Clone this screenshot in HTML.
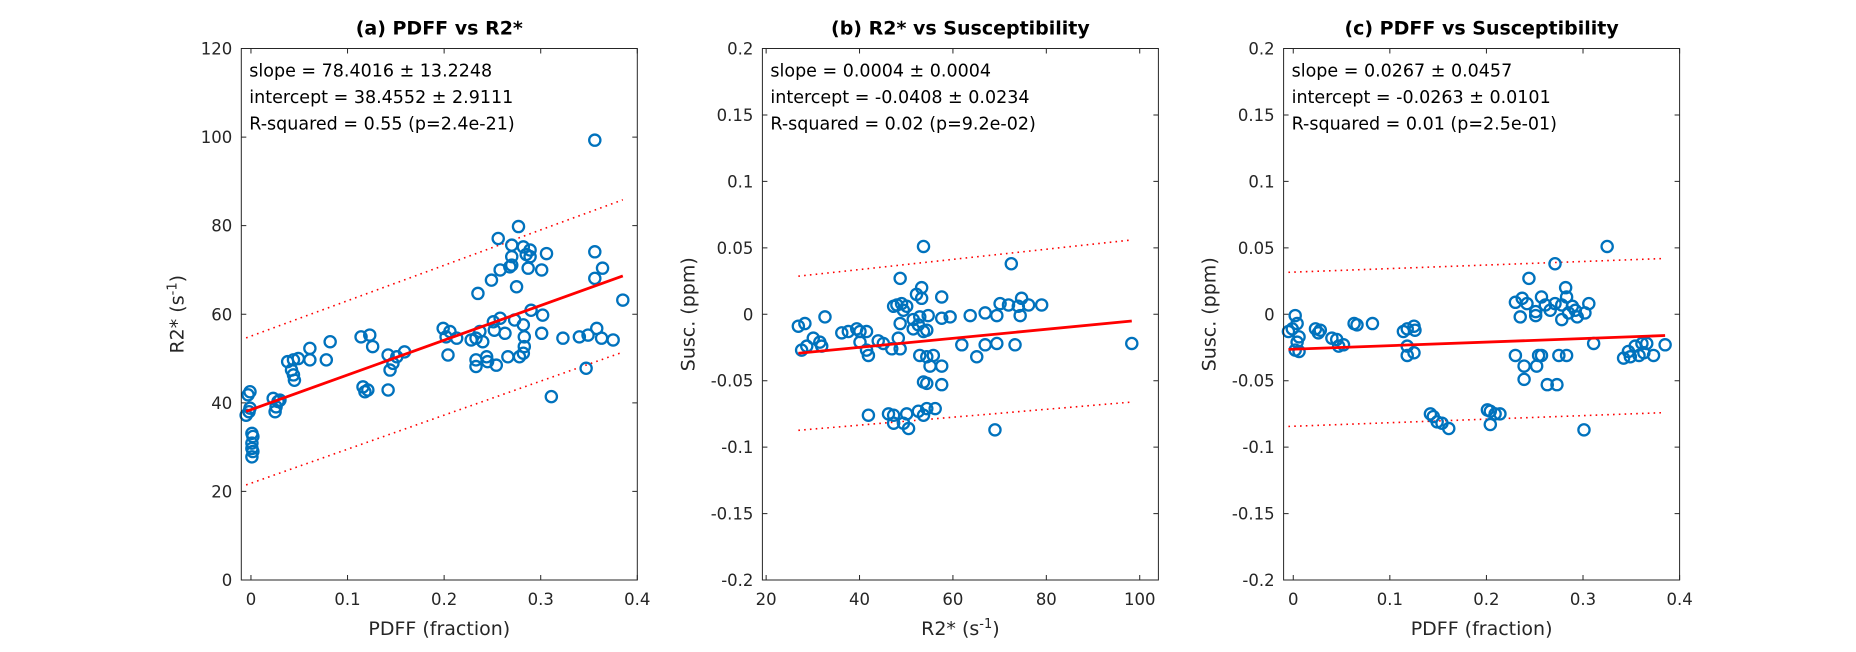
<!DOCTYPE html>
<html><head><meta charset="utf-8"><style>
html,body{margin:0;padding:0;background:#fff;}
svg{display:block;font-family:"DejaVu Sans","Liberation Sans",sans-serif;}
</style></head><body>
<svg id="fig" width="1856" height="652" viewBox="0 0 1856 652"></svg>
<script>
// Panel (a): PDFF vs R2*
const aX=[-0.003,-0.001,-0.005,-0.002,-0.001,0.001,0.002,0.001,0.001,0.002,0.001,0.023,0.025,0.026,0.028,0.030,0.038,0.044,0.049,0.042,0.044,0.045,0.061,0.061,0.078,0.082,0.114,0.123,0.126,0.116,0.118,0.121,0.142,0.142,0.144,0.147,0.151,0.159,0.199,0.202,0.206,0.204,0.213,0.228,0.233,0.237,0.240,0.233,0.233,0.244,0.245,0.254,0.251,0.258,0.252,0.263,0.266,0.273,0.278,0.282,0.283,0.283,0.282,0.290,0.302,0.301,0.311,0.323,0.340,0.347,0.349,0.358,0.363,0.375,0.385,0.235,0.249,0.258,0.270,0.275,0.287,0.301,0.356,0.364,0.256,0.277,0.270,0.270,0.282,0.289,0.289,0.306,0.268,0.356,0.356,0.285];
const aY=[41.8,42.5,37.2,38.0,38.8,33.1,32.4,30.9,29.7,29.0,27.8,41.0,38.0,39.1,40.3,40.6,49.3,49.7,50.0,47.4,46.3,45.1,52.3,49.7,49.7,53.8,54.9,55.3,52.7,43.6,42.5,42.9,42.9,50.8,47.4,48.9,50.4,51.5,56.8,54.9,56.1,50.8,54.6,54.2,54.6,56.1,53.8,49.7,48.2,50.4,49.3,48.5,58.3,59.1,56.4,55.7,50.4,58.7,50.4,57.6,54.9,52.7,51.2,60.9,59.8,55.7,41.4,54.6,54.9,47.8,55.3,56.8,54.6,54.2,63.2,64.7,67.7,70.0,71.1,66.2,70.4,70.0,68.1,70.4,77.1,79.8,75.6,73.0,75.2,74.5,73.0,73.7,70.7,99.3,74.1,73.5];
const aFit=[78.4016,38.4552], aBand=[16.6,17.2];
const aXTicks=[0,0.1,0.2,0.3,0.4], aYTicks=[0,20,40,60,80,100,120];
// Panel (b): R2* vs Susceptibility
const bX=[26.9,28.3,32.6,27.6,28.7,30.1,31.5,31.9,36.2,37.6,39.4,40.1,41.5,40.1,41.5,41.9,44.0,45.1,46.9,48.7,48.3,48.0,49.0,50.1,48.7,51.5,52.6,53.7,54.7,52.9,53.3,52.2,53.3,48.7,57.6,57.6,59.4,52.9,54.4,55.8,55.1,57.6,53.7,54.4,57.6,61.9,65.1,66.9,69.4,73.3,63.7,66.9,69.4,70.1,71.9,74.0,74.7,76.2,79.0,74.4,41.9,46.2,47.3,47.3,50.1,49.4,50.5,52.6,53.7,54.4,56.2,69.0,98.3,53.7,72.5,47.3,49.4,51.5,54.4];
const bY=[-0.009,-0.007,-0.002,-0.027,-0.024,-0.018,-0.021,-0.024,-0.014,-0.013,-0.011,-0.013,-0.013,-0.021,-0.027,-0.031,-0.020,-0.022,-0.026,-0.026,-0.018,0.007,0.008,0.006,-0.007,-0.004,-0.008,-0.013,-0.001,-0.002,0.012,0.015,0.020,0.027,0.013,-0.003,-0.002,-0.031,-0.032,-0.031,-0.039,-0.039,-0.051,-0.052,-0.053,-0.023,-0.032,-0.023,-0.022,-0.023,-0.001,0.001,-0.001,0.008,0.007,0.006,0.012,0.007,0.007,-0.001,-0.076,-0.075,-0.076,-0.082,-0.075,-0.082,-0.086,-0.073,-0.076,-0.071,-0.071,-0.087,-0.022,0.051,0.038,0.006,0.003,-0.011,-0.012];
const bFit=[0.00034,-0.0385], bBand=[0.058,0.061];
const bXTicks=[20,40,60,80,100], bYTicks=[-0.2,-0.15,-0.1,-0.05,0,0.05,0.1,0.15,0.2];
// Panel (c): PDFF vs Susceptibility
const cX=[0.002,-0.001,-0.005,0.004,0.006,0.004,0.002,0.006,0.023,0.028,0.026,0.040,0.045,0.047,0.052,0.063,0.066,0.082,0.114,0.118,0.125,0.126,0.118,0.118,0.125,0.142,0.145,0.149,0.154,0.161,0.201,0.204,0.209,0.214,0.204,0.230,0.239,0.252,0.254,0.257,0.275,0.283,0.239,0.263,0.273,0.244,0.282,0.230,0.237,0.242,0.235,0.251,0.257,0.261,0.266,0.271,0.278,0.283,0.285,0.289,0.292,0.294,0.302,0.306,0.251,0.278,0.311,0.301,0.342,0.347,0.354,0.358,0.363,0.366,0.373,0.385,0.349,0.361,0.271,0.325];
const cY=[-0.001,-0.011,-0.013,-0.007,-0.017,-0.021,-0.027,-0.028,-0.011,-0.012,-0.014,-0.018,-0.019,-0.024,-0.023,-0.007,-0.008,-0.007,-0.013,-0.011,-0.009,-0.012,-0.024,-0.031,-0.029,-0.075,-0.077,-0.081,-0.082,-0.086,-0.072,-0.073,-0.075,-0.075,-0.083,-0.031,-0.039,-0.039,-0.031,-0.031,-0.031,-0.031,-0.049,-0.053,-0.053,0.027,0.020,0.009,0.012,0.008,-0.002,0.002,0.013,0.007,0.003,0.008,0.007,0.013,0.001,0.006,0.003,-0.002,0.001,0.008,-0.001,-0.004,-0.022,-0.087,-0.033,-0.028,-0.024,-0.031,-0.029,-0.022,-0.031,-0.023,-0.032,-0.022,0.038,0.051];
const cFit=[0.0267,-0.0263], cBand=[0.058,0.058];
const cXTicks=[0,0.1,0.2,0.3,0.4], cYTicks=bYTicks;

const NS='http://www.w3.org/2000/svg';
const svg=document.getElementById('fig');
function mk(tag,attrs,parent){const e=document.createElementNS(NS,tag);for(const k in attrs)e.setAttribute(k,attrs[k]);(parent||svg).appendChild(e);return e;}
function fmt(v){return String(Math.round(v*1000)/1000);}

function panel(o){
  const L=o.left,T=48.5,W=396,H=531.5;
  const g=mk('g',{});
  
  
  const sx=v=>L+(v-o.xlim[0])/(o.xlim[1]-o.xlim[0])*W;
  const sy=v=>T+H-(v-o.ylim[0])/(o.ylim[1]-o.ylim[0])*H;
  const bg=mk('rect',{x:L,y:T,width:W,height:H,fill:'#fff'},g);
  
  
  o.xt.forEach(t=>{const x=sx(t);
    const tk=mk('path',{d:`M${x},${T+H}v-5M${x},${T}v5`,stroke:'#262626','stroke-width':1},g);
    
    
    const tl=mk('text',{x:x,y:T+H+25,'text-anchor':'middle','font-size':16.5,fill:'#262626'},g);
    tl.textContent=fmt(t);
    
    });
  o.yt.forEach(t=>{const y=sy(t);
    const tk=mk('path',{d:`M${L},${y}h5M${L+W},${y}h-5`,stroke:'#262626','stroke-width':1},g);
    
    
    const tl=mk('text',{x:L-9,y:y+6,'text-anchor':'end','font-size':16.5,fill:'#262626'},g);
    tl.textContent=fmt(t);
    
    });
  const x0=Math.min(...o.xs),x1=Math.max(...o.xs);
  const f=x=>o.fit[0]*x+o.fit[1];
  const up=mk('line',{x1:sx(x0),y1:sy(f(x0)+o.band[0]),x2:sx(x1),y2:sy(f(x1)+o.band[1]),stroke:'#ff0000','stroke-width':1.6,'stroke-dasharray':'1.6 4.2'},g);
  
  
  const lo=mk('line',{x1:sx(x0),y1:sy(f(x0)-o.band[0]),x2:sx(x1),y2:sy(f(x1)-o.band[1]),stroke:'#ff0000','stroke-width':1.6,'stroke-dasharray':'1.6 4.2'},g);
  
  
  o.xs.forEach((v,i)=>{
    const c=mk('circle',{cx:sx(v),cy:sy(o.ys[i]),r:5.6,fill:'none',stroke:'#0072BD','stroke-width':2.3},g);
    
    });
  const fl=mk('line',{x1:sx(x0),y1:sy(f(x0)),x2:sx(x1),y2:sy(f(x1)),stroke:'#ff0000','stroke-width':2.8},g);
  
  
  const box=mk('rect',{x:L,y:T,width:W,height:H,fill:'none',stroke:'#262626','stroke-width':1},g);
  
  
  o.ann.forEach((s,i)=>{const t=mk('text',{x:L+8,y:T+28+i*26.5,'font-size':17.5,fill:'#000'},g);
    t.textContent=s;
    
    });
  const ti=mk('text',{x:L+W/2,y:T-14,'text-anchor':'middle','font-size':19,'font-weight':'bold',fill:'#000'},g);
  ti.textContent=o.title;
  
  
  const xl=mk('text',{x:L+W/2,y:T+H+55,'text-anchor':'middle','font-size':19,fill:'#262626'},g);
  xl.innerHTML=o.xlab;
  
  
  const yx=L-o.yoff, yy=T+H/2;
  const yl=mk('text',{x:yx,y:yy,'text-anchor':'middle','font-size':19,fill:'#262626',transform:`rotate(-90 ${yx} ${yy})`},g);
  yl.innerHTML=o.ylab;
  
  
}
const r2lab='R2* (s<tspan font-size="13" dy="-7">-1</tspan><tspan dy="7">)</tspan>';
panel({id:'a',left:241.3,xlim:[-0.01,0.4],ylim:[0,120],xs:aX,ys:aY,fit:aFit,band:aBand,xt:aXTicks,yt:aYTicks,
  title:'(a) PDFF vs R2*',xlab:'PDFF (fraction)',ylab:r2lab,yoff:58,
  ann:['slope = 78.4016 \u00b1 13.2248','intercept = 38.4552 \u00b1 2.9111','R-squared = 0.55 (p=2.4e-21)']});
panel({id:'b',left:762.4,xlim:[19.2,104],ylim:[-0.2,0.2],xs:bX,ys:bY,fit:bFit,band:bBand,xt:bXTicks,yt:bYTicks,
  title:'(b) R2* vs Susceptibility',xlab:r2lab,ylab:'Susc. (ppm)',yoff:68,
  ann:['slope = 0.0004 \u00b1 0.0004','intercept = -0.0408 \u00b1 0.0234','R-squared = 0.02 (p=9.2e-02)']});
panel({id:'c',left:1283.6,xlim:[-0.01,0.4],ylim:[-0.2,0.2],xs:cX,ys:cY,fit:cFit,band:cBand,xt:cXTicks,yt:cYTicks,
  title:'(c) PDFF vs Susceptibility',xlab:'PDFF (fraction)',ylab:'Susc. (ppm)',yoff:68,
  ann:['slope = 0.0267 \u00b1 0.0457','intercept = -0.0263 \u00b1 0.0101','R-squared = 0.01 (p=2.5e-01)']});
</script>
</body></html>
